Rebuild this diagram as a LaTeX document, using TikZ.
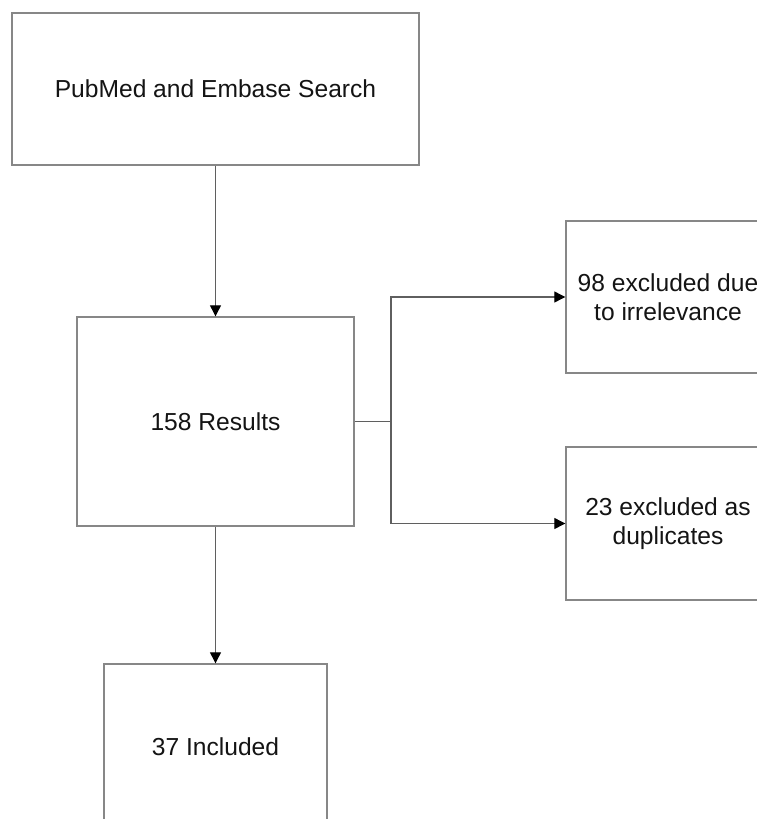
\documentclass[tikz,border=0pt]{standalone}
\usepackage{fontspec}
\setmainfont{Liberation Sans}
\usetikzlibrary{arrows.meta}
\definecolor{boxgray}{RGB}{135,135,135}
\definecolor{linegray}{RGB}{95,95,95}
\definecolor{textblack}{RGB}{20,20,20}
\begin{document}
\begin{tikzpicture}[x=1pt,y=-1pt,
  box/.style={draw=boxgray,line width=1.4pt,rectangle,inner sep=0pt,align=center,
    text=textblack,font=\fontsize{24.6}{29}\selectfont},
  conn/.style={draw=linegray,line width=1.2pt},
  arr/.style={conn,-{Triangle[length=11pt,width=11pt,color=black]}}]
\useasboundingbox (0,0) rectangle (757,819);
\clip (0,0) rectangle (757,819);
\fill[white] (0,0) rectangle (757,819);
\node[box,minimum width=407pt,minimum height=152pt] (search) at (215.5,89) {PubMed and Embase Search};
\node[box,minimum width=277pt,minimum height=209pt] (results) at (215.5,421.5) {158 Results};
\node[box,minimum width=204pt,minimum height=152pt] (irrel) at (668,297) {98 excluded due\\to irrelevance};
\node[box,minimum width=204pt,minimum height=153pt] (dup) at (668,523.5) {23 excluded as\\duplicates};
\node[box,minimum width=223pt,minimum height=166pt] (incl) at (215.5,747) {37 Included};
\coordinate (junc) at (391,421.5);
\draw[arr] (search.south) -- (results.north);
\draw[arr] (results.south) -- (incl.north);
\draw[conn] (results.east) -- (junc);
\draw[arr] (junc) |- (irrel.west);
\draw[arr] (junc) |- (dup.west);
\end{tikzpicture}
\end{document}
